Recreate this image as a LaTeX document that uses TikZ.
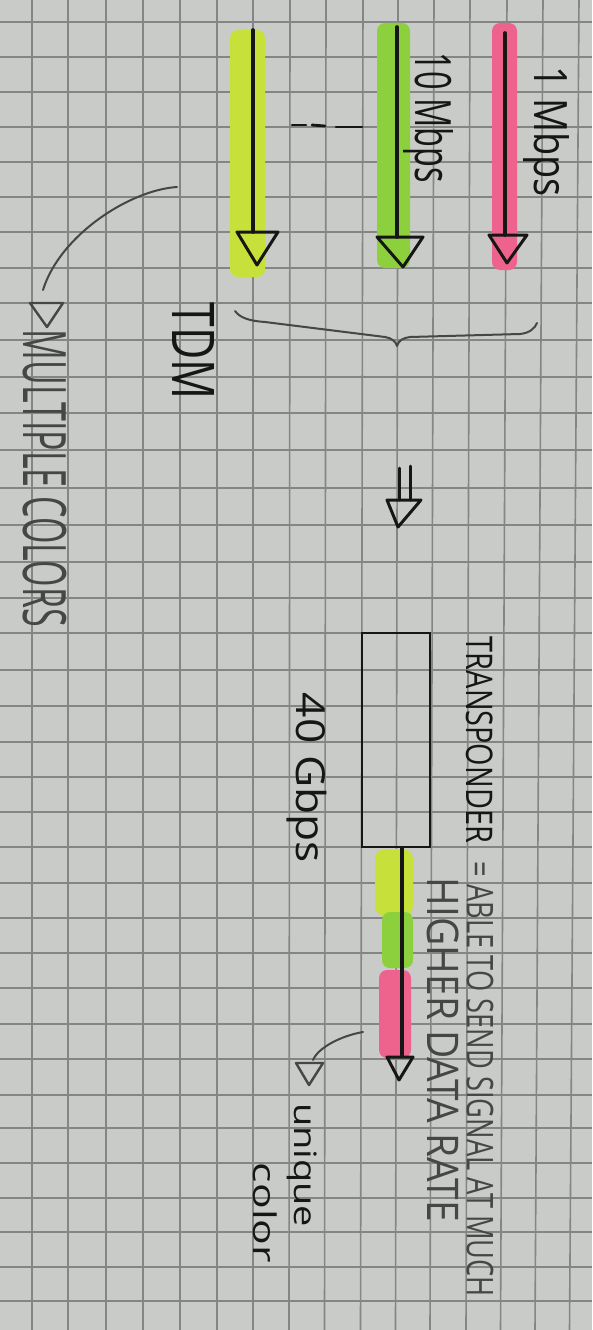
\documentclass[tikz,border=0pt]{standalone}
\usepackage{fontspec}
\setmainfont{Open Sans}
\usepackage{graphicx}
\definecolor{paperc}{RGB}{201,203,200}
\definecolor{gridc}{RGB}{132,134,132}
\definecolor{inkc}{RGB}{22,22,22}
\definecolor{pencilc}{RGB}{70,70,70}
\definecolor{pinkc}{RGB}{238,98,142}
\definecolor{greenc}{RGB}{140,208,62}
\definecolor{yellowc}{RGB}{200,224,58}
\newcommand{\fitlabel}[3]{\resizebox*{#1pt}{#2pt}{#3}}
\begin{document}
\begin{tikzpicture}[x=1pt,y=-1pt,
  gridline/.style={draw=gridc, line width=1.6pt},
  inkline/.style={draw=inkc, line width=3.6pt, line cap=round, line join=round},
  headtri/.style={draw=inkc, line width=3pt, line join=round},
  thinline/.style={draw=pencilc, line width=2pt, line cap=round, line join=round},
  hl/.style={rounded corners=8pt},
  lbl/.style={inner sep=0pt, rotate=-90, text=inkc},
  pencillbl/.style={lbl, text=pencilc}]
\useasboundingbox (0,0) rectangle (592,1330);
\fill[paperc] (0,0) rectangle (592,1330);
% grid
\foreach \xt/\xb in {32/32,68/68,106/106,143/143,180/180,217/217,253/253,290/289,326/324.5,363/360.5,398/395.5,434/430,470/466,507/500.5,543/535,579/569.5}
  \draw[gridline] (\xt,0) -- (\xb,1330);
\foreach \yy in {22,57,92,127,162,197,232,268,303,340,377,413,450,488,525,562,598,633,670,706,742,777,812,847,883,918,953,988,1024,1059,1095,1128,1163,1198,1232,1267,1301}
  \draw[gridline] (0,\yy) -- (592,\yy);

% highlighter strips
\fill[pinkc, hl] (492,23) rectangle (517,270);
\fill[greenc, hl] (377,23) rectangle (410,268);
\fill[yellowc, hl] (230,30) rectangle (265,277);

% channel arrows
\coordinate (pinkS) at (505,33);
\coordinate (pinkE) at (505,235);
\coordinate (greenS) at (397,27);
\coordinate (greenE) at (397,237);
\coordinate (yelS) at (253,30);
\coordinate (yelE) at (253,232);
\draw[inkline] (pinkS) -- (pinkE);
\draw[inkline] (greenS) -- (greenE);
\draw[inkline] (yelS) -- (yelE);
\draw[headtri] (489,235) -- (527,235) -- (507,263) -- cycle;
\draw[headtri] (377,237) -- (423,237) -- (403,267) -- cycle;
\draw[headtri] (237,232) -- (278,232) -- (257,265) -- cycle;

% dashes between channels
\draw[inkline, line width=2.8pt] (292,125) -- (306,125);
\draw[inkline, line width=2.8pt] (312,125) -- (325,126);
\draw[inkline, line width=2.8pt] (336,127) -- (362,127);

% labels of channels
\node[lbl] (mbps1) at (546,132) {\fitlabel{130}{46}{1 Mbps}};
\node[lbl] (mbps10) at (428,118) {\fitlabel{130}{50}{10 Mbps}};

% brace
\coordinate (braceL) at (235,311);
\coordinate (braceTip) at (397,346);
\coordinate (braceR) at (537,323);
\draw[thinline] (braceL) .. controls (240,318) and (250,321) .. (265,322)
  -- (385,337) .. controls (392,338) and (396,342) .. (braceTip)
  .. controls (399,340) and (403,338) .. (410,337)
  -- (520,334) .. controls (530,333) and (535,328) .. (braceR);

% TDM and multiple colors
\node[lbl] (tdm) at (194,351.5) {\fitlabel{97}{42}{TDM}};
\coordinate (arcA) at (177,187);
\coordinate (arcB) at (43,290);
\draw[thinline] (arcA) .. controls (130,190) and (60,235) .. (arcB);
\draw[thinline, line width=2.4pt] (63,303) -- (30,303) -- (47,327) -- cycle;
\node[pencillbl] (multi) at (45,478.5) {\fitlabel{297}{44}{MULTIPLE COLORS}};

% implies arrow
\coordinate (impA1) at (399,468);
\coordinate (impB1) at (399,500);
\coordinate (impA2) at (410,466);
\coordinate (impB2) at (410,500);
\draw[inkline, line width=3pt] (impA1) -- (impB1);
\draw[inkline, line width=3pt] (impA2) -- (impB2);
\draw[headtri] (387,500) -- (421,500) -- (398,527) -- cycle;

% transponder box
\node[draw=inkc, line width=2.8pt, minimum width=68pt, minimum height=214pt, inner sep=0pt] (box) at (396,740) {};

% output highlight and line
\fill[yellowc, rounded corners=10pt] (375,849) rectangle (413,916);
\fill[greenc, rounded corners=8pt] (382,912) rectangle (413,968);
\fill[pinkc, rounded corners=8pt] (379,970) rectangle (411,1058);
\coordinate (outE) at (402,1055);
\draw[inkline, line width=4pt] (box.south -| outE) -- (outE);
\draw[headtri] (387,1057) -- (413,1057) -- (399,1080) -- cycle;

% texts about transponder
\node[lbl] (tp) at (480,740) {\fitlabel{206}{27}{TRANSPONDER}};
\node[pencillbl] (tpdef) at (480,1079.5) {\fitlabel{435}{27}{= ABLE TO SEND SIGNAL AT MUCH}};
\node[pencillbl] (tpdef2) at (443.5,1050) {\fitlabel{344}{32}{HIGHER DATA RATE}};
\node[lbl] (gbps) at (307,778) {\fitlabel{170}{40}{40 Gbps}};

% unique color
\coordinate (ucA) at (363,1032);
\coordinate (ucB) at (313,1060);
\draw[thinline] (ucA) .. controls (340,1036) and (318,1048) .. (ucB);
\draw[thinline, line width=2.4pt] (323,1063) -- (296,1063) -- (309,1085) -- cycle;
\node[lbl] (uniq) at (302,1165) {\fitlabel{124}{30}{unique}};
\node[lbl] (col) at (265,1213) {\fitlabel{100}{24}{color}};
\end{tikzpicture}
\end{document}
